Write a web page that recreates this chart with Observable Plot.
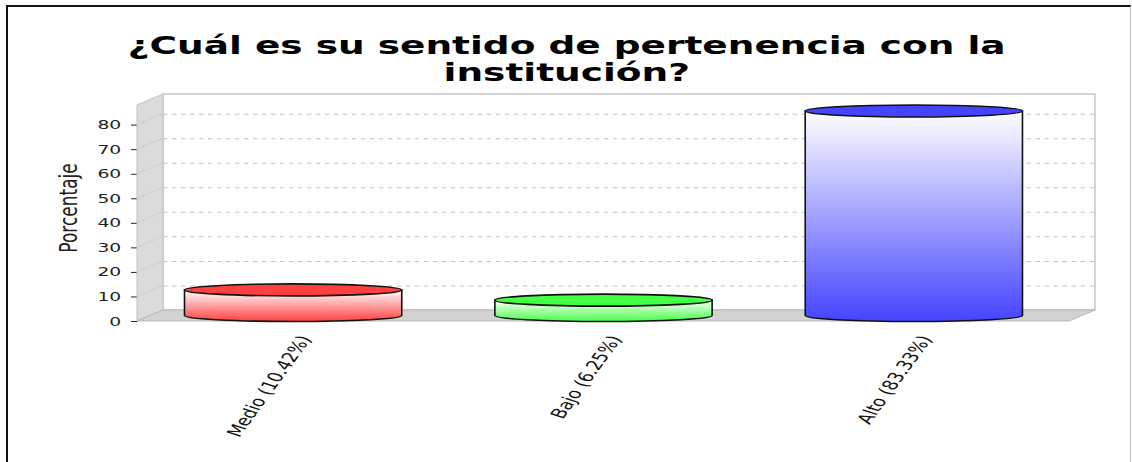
<!DOCTYPE html>
<html><head><meta charset="utf-8">
<script src="https://cdn.jsdelivr.net/npm/d3@7"></script>
<script src="https://cdn.jsdelivr.net/npm/@observablehq/plot@0.6"></script>
<style>
html,body{margin:0;padding:0;background:#fff;}
#wrap{position:relative;width:1132px;height:462px;overflow:hidden;}
#chart{position:absolute;left:0;top:0;}
#border{position:absolute;left:6px;top:5px;width:1122px;height:480px;border-top:2px solid #111;border-left:2px solid #111;border-right:1px solid #bbb;pointer-events:none;}
</style></head>
<body><div id="wrap"><div id="chart"></div><div id="border"></div></div>
<script>
// ---- data ----
const titleLines = ["¿Cuál es su sentido de pertenencia con la", "institución?"];
const yLabel = "Porcentaje";
const categories = ["Medio", "Bajo", "Alto"];
const values = [10.42, 6.25, 83.33];
const tickLabels = ["Medio (10.42%)", "Bajo (6.25%)", "Alto (83.33%)"];
const baseColors = ["#ff4040", "#44ff44", "#4444ff"];
const yTicks = [0, 10, 20, 30, 40, 50, 60, 70, 80];
const yMax = 88;

// ---- layout (chart drawn in a narrower frame, then stretched horizontally like the reference) ----
const W = 1132, H = 462, VW = 755, SX = W / VW;
const DX = 17.3, DY = 11;          // 3D depth offset
const INSET = 0.15;                // cylinder inset as fraction of band
const mL = 137 / SX, mR = VW - 1069 / SX, mT = 105, mB = H - 321;
const frameCenter = mL + (VW - mL - mR) / 2;

const data = categories.map((c, i) => ({category: c, value: values[i], label: tickLabels[i], color: baseColors[i], i}));

const nss = sel => sel.attr("vector-effect", "non-scaling-stroke");

function walls(index, scales) {
  const {x, y} = scales;
  const [xa, xb] = x.range();
  const [y0, yt] = y.range();
  const g = d3.create("svg:g");
  g.append("rect").attr("x", xa + DX).attr("y", yt - DY).attr("width", xb - xa).attr("height", y0 - yt)
    .attr("fill", "#fff").attr("stroke", "#c6c6c6").attr("stroke-width", 1.5).call(nss);
  g.append("path").attr("d", `M${xa},${yt}L${xa + DX},${yt - DY}L${xa + DX},${y0 - DY}L${xa},${y0}Z`)
    .attr("fill", "#dbdbdb").attr("stroke", "#c2c2c2").attr("stroke-width", 1).call(nss);
  g.append("path").attr("d", `M${xa},${y0}L${xa + DX},${y0 - DY}L${xb + DX},${y0 - DY}L${xb},${y0}Z`)
    .attr("fill", "#d2d2d2").attr("stroke", "#b9b9b9").attr("stroke-width", 1).call(nss);
  for (const v of yTicks.slice(1)) {
    g.append("line").attr("x1", xa).attr("y1", y(v)).attr("x2", xa + DX).attr("y2", y(v) - DY)
      .attr("stroke", "#cfcfcf").attr("stroke-width", 1).call(nss);
  }
  return g.node();
}

function cylinders(index, scales) {
  const {x, y} = scales;
  const bw = x.bandwidth();
  const g = d3.create("svg:g");
  const defs = g.append("defs");
  data.forEach(d => {
    const lg = defs.append("linearGradient").attr("id", "cylg" + d.i)
      .attr("x1", 0).attr("y1", 0).attr("x2", 0).attr("y2", 1);
    lg.append("stop").attr("offset", "0%").attr("stop-color", "#ffffff");
    lg.append("stop").attr("offset", "100%").attr("stop-color", d.color);
  });
  data.forEach(d => {
    const x0 = x(d.category) + bw * INSET, x1 = x(d.category) + bw * (1 - INSET);
    const rx = (x1 - x0) / 2, ry = DY / 2 + 0.5, cx = (x0 + x1) / 2;
    const yt = y(d.value) - DY / 2, yb = y(0) - DY / 2;
    g.append("path")
      .attr("d", `M${x0},${yt}L${x0},${yb}A${rx},${ry} 0 0 0 ${x1},${yb}L${x1},${yt}Z`)
      .attr("fill", `url(#cylg${d.i})`).attr("stroke", "#111").attr("stroke-width", 1.6).call(nss);
    g.append("ellipse").attr("cx", cx).attr("cy", yt).attr("rx", rx).attr("ry", ry)
      .attr("fill", d.color).attr("stroke", "#111").attr("stroke-width", 1.6).call(nss);
  });
  return g.node();
}

const chart = Plot.plot({
  width: VW,
  height: H,
  marginLeft: mL,
  marginRight: mR,
  marginTop: mT,
  marginBottom: mB,
  style: {fontFamily: "'DejaVu Sans', sans-serif", fontSize: "12.5px", color: "#222", background: "transparent", overflow: "visible"},
  x: {type: "band", domain: categories, padding: 0, axis: null},
  y: {domain: [0, yMax], ticks: yTicks, tickSize: 4, tickPadding: 7, label: null},
  marks: [
    walls,
    Plot.ruleY(yTicks.slice(1), {dx: DX, dy: -DY, stroke: "#c4c4c4", strokeWidth: 1, strokeDasharray: "3,3"}),
    Plot.barY(data, {x: "category", y: "value", fill: "none", stroke: "none"}),
    cylinders,
    Plot.text(data, {x: "category", text: "label", frameAnchor: "bottom", rotate: -64, textAnchor: "end",
      lineAnchor: "middle", dx: 8, dy: 15, fontSize: 14, fill: "#111"}),
    Plot.text([yLabel], {text: d => d, frameAnchor: "left", rotate: -90, textAnchor: "middle", lineAnchor: "middle",
      dx: -45.9, dy: -5.5, fontSize: 17, fill: "#222"}),
    Plot.text([titleLines[0]], {text: d => d, frameAnchor: "top", lineAnchor: "bottom",
      dx: VW / 2 - frameCenter, dy: 53 - mT, fontSize: 25, fontWeight: "bold", fill: "#000"}),
    Plot.text([titleLines[1]], {text: d => d, frameAnchor: "top", lineAnchor: "bottom",
      dx: VW / 2 - frameCenter, dy: 80 - mT, fontSize: 25, fontWeight: "bold", fill: "#000"})
  ]
});

chart.setAttribute("width", W);
chart.setAttribute("height", H);
chart.setAttribute("preserveAspectRatio", "none");
chart.style.width = W + "px";
chart.style.height = H + "px";
chart.style.maxWidth = "none";
document.getElementById("chart").appendChild(chart);
</script>
</body></html>
